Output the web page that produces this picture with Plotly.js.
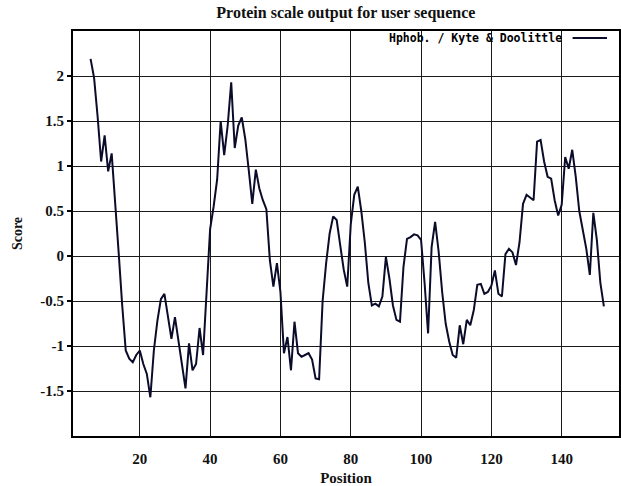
<!DOCTYPE html>
<html>
<head>
<meta charset="utf-8">
<script src="https://cdn.plot.ly/plotly-3.0.1.min.js"></script>
<style>html,body{margin:0;padding:0;background:#fff;}#chart{width:621px;height:486px;}</style>
</head>
<body>
<div id="chart"></div>
<script>
// Data
const startPosition = 6;
const scores = [
  2.19, 1.98, 1.55, 1.05, 1.34, 0.94, 1.14, 0.62, 0.03, -0.55,
  -1.05, -1.14, -1.18, -1.10, -1.05, -1.20, -1.31, -1.57, -1.05, -0.72,
  -0.48, -0.42, -0.65, -0.92, -0.68, -0.95, -1.25, -1.47, -0.97, -1.27,
  -1.20, -0.80, -1.10, -0.40, 0.30, 0.55, 0.85, 1.50, 1.12, 1.45,
  1.93, 1.20, 1.45, 1.54, 1.30, 0.95, 0.58, 0.96, 0.75, 0.62,
  0.52, -0.05, -0.34, -0.08, -0.40, -1.08, -0.90, -1.27, -0.73, -1.08,
  -1.12, -1.10, -1.08, -1.15, -1.36, -1.37, -0.50, -0.08, 0.25, 0.44,
  0.40, 0.12, -0.15, -0.34, 0.35, 0.68, 0.77, 0.50, 0.15, -0.30,
  -0.55, -0.53, -0.56, -0.45, -0.01, -0.25, -0.55, -0.71, -0.73, -0.12,
  0.19, 0.21, 0.24, 0.23, 0.18, -0.30, -0.86, 0.10, 0.38, 0.05,
  -0.40, -0.75, -0.95, -1.10, -1.13, -0.77, -0.98, -0.71, -0.77, -0.60,
  -0.32, -0.31, -0.42, -0.40, -0.33, -0.16, -0.42, -0.45, 0.02, 0.08,
  0.04, -0.10, 0.15, 0.58, 0.68, 0.65, 0.62, 1.27, 1.29, 1.05,
  0.88, 0.86, 0.62, 0.45, 0.57, 1.10, 0.97, 1.18, 0.88, 0.50,
  0.28, 0.08, -0.21, 0.48, 0.18, -0.30, -0.56
];
const positions = scores.map((_, i) => startPosition + i);
const seriesName = "Hphob. / Kyte & Doolittle";
const xTickVals = [20, 40, 60, 80, 100, 120, 140];
const yTickVals = [-1.5, -1, -0.5, 0, 0.5, 1, 1.5, 2];
const yTickText = ["-1.5", "-1", "-0.5", "0", "0.5", "1", "1.5", "2"];
const chartTitle = "Protein scale output for user sequence";
const xTitle = "Position";
const yTitle = "Score";

const serif = "Liberation Serif, Times New Roman, serif";
const ink = "#111";

const trace = {
  x: positions,
  y: scores,
  type: "scatter",
  mode: "lines",
  name: seriesName,
  line: {color: "#0b0b2a", width: 2},
  showlegend: false,
  hoverinfo: "skip"
};

const layout = {
  width: 621,
  height: 486,
  margin: {l: 73, r: 2, t: 31, b: 50},
  paper_bgcolor: "#ffffff",
  plot_bgcolor: "#ffffff",
  showlegend: false,
  title: {
    text: "<b>" + chartTitle + "</b>",
    font: {family: serif, size: 16, color: ink},
    x: 0.557, xanchor: "center", y: 0.975, yanchor: "middle"
  },
  xaxis: {
    range: [1, 156.3],
    tickmode: "array",
    tickvals: xTickVals,
    ticktext: xTickVals.map(v => "<b>" + v + "</b>"),
    ticks: "",
    ticklabelstandoff: 8,
    tickfont: {family: serif, size: 15, color: ink},
    showgrid: true, gridcolor: "#1a1a1a", gridwidth: 1,
    zeroline: false,
    showline: true, linecolor: "#000", linewidth: 2, mirror: true,
    title: {text: "<b>" + xTitle + "</b>", font: {family: serif, size: 15, color: ink}, standoff: 6}
  },
  yaxis: {
    range: [-2, 2.5],
    tickmode: "array",
    tickvals: yTickVals,
    ticktext: yTickText.map(v => "<b>" + v + "</b>"),
    ticks: "outside", ticklen: 4, tickcolor: "#000", tickwidth: 2,
    tickfont: {family: serif, size: 15, color: ink},
    showgrid: true, gridcolor: "#1a1a1a", gridwidth: 1,
    zeroline: false,
    showline: true, linecolor: "#000", linewidth: 2, mirror: true,
    title: {text: "<b>" + yTitle + "</b>", font: {family: serif, size: 14, color: ink}, standoff: 14}
  },
  annotations: [{
    xref: "paper", yref: "paper", x: 0.900, y: 0.983,
    xanchor: "right", yanchor: "middle", showarrow: false,
    text: "<b>" + seriesName + "</b>",
    font: {family: "DejaVu Sans Mono, monospace", size: 11.5, color: "#000"}
  }],
  shapes: [{
    type: "line", xref: "paper", yref: "paper",
    x0: 0.915, x1: 0.978, y0: 0.983, y1: 0.983,
    line: {color: "#0b0b2a", width: 2}
  }]
};

Plotly.newPlot("chart", [trace], layout, {staticPlot: true, displayModeBar: false});
</script>
</body>
</html>
